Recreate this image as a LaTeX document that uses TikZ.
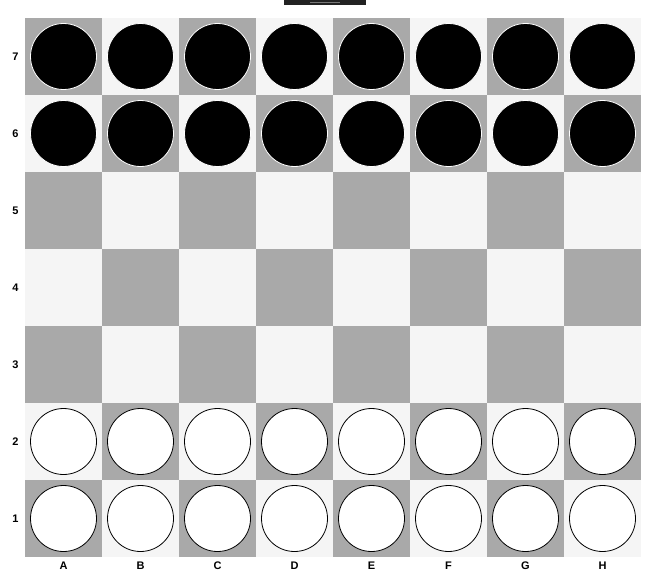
\documentclass[tikz,border=0pt]{standalone}
\usepackage{fontspec}
\setmainfont{Liberation Sans}
\usepackage{tikz}
\usetikzlibrary{positioning}
\definecolor{DarkSq}{RGB}{169,169,169}
\definecolor{LightSq}{RGB}{245,245,245}
\definecolor{BarDark}{RGB}{34,34,34}
\definecolor{BarLine}{RGB}{120,120,120}

\begin{document}
\begin{tikzpicture}[
  x=1pt,y=-1pt,
  sq/.style={rectangle,draw=none,minimum size=77pt,inner sep=0pt},
  blackpc/.style={circle,fill=black,draw=white,line width=0.8pt,minimum size=66pt,inner sep=0pt},
  whitepc/.style={circle,fill=white,draw=black,line width=0.8pt,minimum size=66pt,inner sep=0pt},
  lbl/.style={font=\fontsize{11}{13}\selectfont\bfseries,inner sep=0pt}
]
\useasboundingbox (0,0) rectangle (653,586);
% top bar
\fill[BarDark] (284,0) rectangle (366,5);
\draw[BarLine,line width=0.8pt] (310,2) -- (340,2);
% squares
\foreach \c [count=\i from 0] in {A,B,C,D,E,F,G,H}{
  \foreach \r in {1,...,7}{
    \pgfmathtruncatemacro{\odd}{mod(\i+\r,2)}
    \ifnum\odd=1 \def\sqcol{DarkSq}\else \def\sqcol{LightSq}\fi
    \node[sq,fill=\sqcol] (sq-\c\r) at ({63.5+77*\i},{518.5-77*(\r-1)}) {};
  }
  \node[lbl] (col-\c) at ({63.5+77*\i},566) {\c};
}
\foreach \r in {1,...,7}{
  \node[lbl,left=6pt of sq-A\r] (row-\r) {\r};
}
% pieces
\foreach \c in {A,B,C,D,E,F,G,H}{
  \node[whitepc] (pc-\c1) at (sq-\c1) {};
  \node[whitepc] (pc-\c2) at (sq-\c2) {};
  \node[blackpc] (pc-\c6) at (sq-\c6) {};
  \node[blackpc] (pc-\c7) at (sq-\c7) {};
}
\end{tikzpicture}
\end{document}
